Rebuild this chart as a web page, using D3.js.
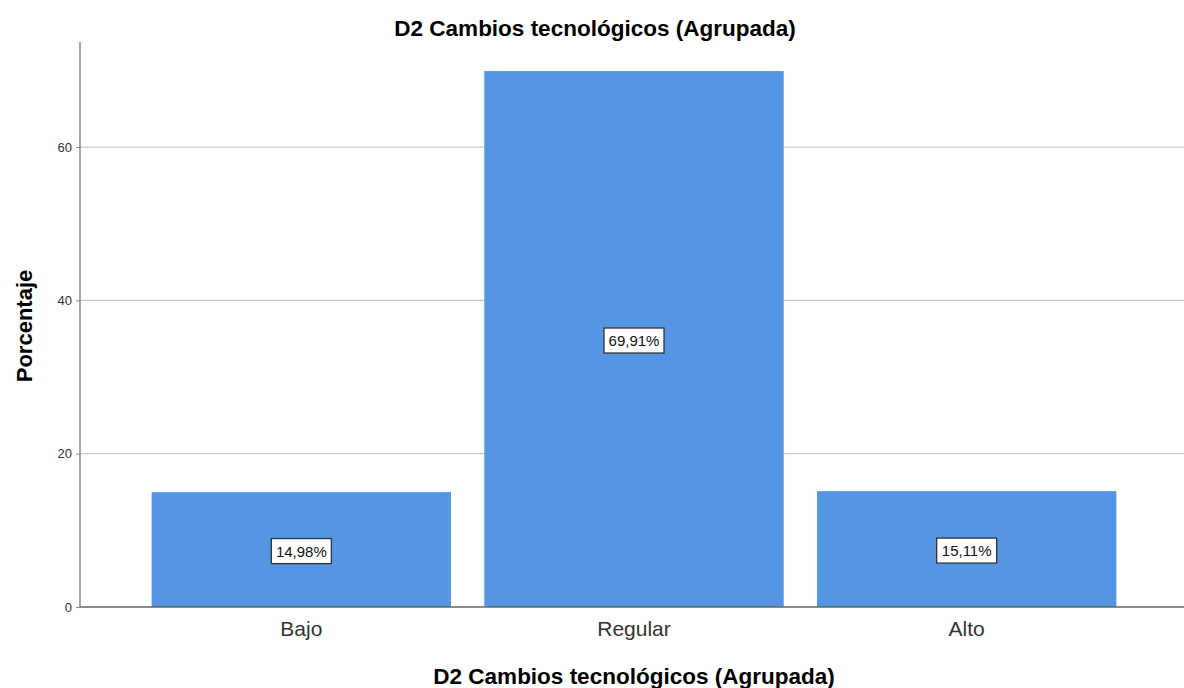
<!DOCTYPE html>
<html>
<head>
<meta charset="utf-8">
<script src="https://cdn.jsdelivr.net/npm/d3@7"></script>
<style>
  body { margin: 0; background: #fff; }
  text { font-family: "Liberation Sans", Arial, sans-serif; }
</style>
</head>
<body>
<div id="viz"></div>
<script>
// data
const categories = ["Bajo", "Regular", "Alto"];
const values = [14.98, 69.91, 15.11];
const labels = ["14,98%", "69,91%", "15,11%"];
const yTicks = [0, 20, 40, 60];

const width = 1184
const height = 688

// plot area
const plotLeft = 80, plotRight = 1184, plotTop = 42, plotBottom = 607;

var svg = d3.select("#viz")
        .append("svg")
        .attr("width", width)
        .attr("height", height);

// y transform
const y = d3.scaleLinear()
            .domain([0, 73.7])
            .range([plotBottom, plotTop]);

// x transform
const x = d3.scaleBand()
            .domain(categories)
            .range([135, 1133])
            .paddingInner(0.1)
            .paddingOuter(0.05);

// grid lines
svg.append("g")
    .selectAll("line")
    .data(yTicks.filter(d => d > 0))
    .enter()
    .append("line")
    .attr("x1", plotLeft)
    .attr("x2", plotRight)
    .attr("y1", d => y(d))
    .attr("y2", d => y(d))
    .style("stroke", "#c8c8c8")
    .style("stroke-width", 1.3);

// bars
svg.append("g")
    .selectAll("rect")
    .data(values)
    .enter()
    .append("rect")
    .attr("x", (d, i) => x(categories[i]))
    .attr("y", d => y(d))
    .attr("width", x.bandwidth())
    .attr("height", d => y(0) - y(d))
    .attr("fill", "#5595e3");

// y axis
const yAxis = svg.append("g")
    .attr("transform", "translate(" + plotLeft + ",0)")
    .call(d3.axisLeft(y).tickValues(yTicks).tickSize(4).tickPadding(4));
yAxis.select(".domain").attr("d", "M0," + plotTop + "V" + plotBottom).style("stroke", "#8a8a8a").style("stroke-width", 1.5);
yAxis.selectAll(".tick line").style("stroke", "#8a8a8a");
yAxis.selectAll("text").style("font-size", "13px").style("fill", "#333");

// x axis
const xAxis = svg.append("g")
    .attr("transform", "translate(0," + plotBottom + ")")
    .call(d3.axisBottom(x).tickSize(0).tickPadding(14));
xAxis.select(".domain").attr("d", "M" + plotLeft + ",0H" + plotRight).style("stroke", "#666").style("stroke-width", 1.5);
xAxis.selectAll("text").style("font-size", "21px").style("fill", "#333");

// value labels
const lab = svg.append("g")
    .selectAll("g")
    .data(values)
    .enter()
    .append("g")
    .attr("transform", (d, i) => "translate(" + (x(categories[i]) + x.bandwidth() / 2) + "," + y(d / 2) + ")");

lab.append("rect")
    .attr("x", -30)
    .attr("y", -11)
    .attr("width", 60)
    .attr("height", 25)
    .attr("fill", "#fff")
    .attr("stroke", "#333")
    .attr("stroke-width", 1.3);

lab.append("text")
    .attr("text-anchor", "middle")
    .attr("dy", "0.36em")
    .attr("y", 2)
    .style("font-size", "15px")
    .style("fill", "#111")
    .text((d, i) => labels[i]);

// title
svg.append("text")
    .attr("x", 595)
    .attr("y", 36)
    .attr("text-anchor", "middle")
    .style("font-size", "22.5px")
    .style("font-weight", "bold")
    .text("D2 Cambios tecnológicos (Agrupada)");

// x label
svg.append("text")
    .attr("x", 634)
    .attr("y", 684)
    .attr("text-anchor", "middle")
    .style("font-size", "22.5px")
    .style("font-weight", "bold")
    .text("D2 Cambios tecnológicos (Agrupada)");

// y label
svg.append("text")
    .attr("transform", "translate(32," + 326 + ")rotate(-90)")
    .attr("text-anchor", "middle")
    .style("font-size", "22px")
    .style("font-weight", "bold")
    .text("Porcentaje");
</script>
</body>
</html>
